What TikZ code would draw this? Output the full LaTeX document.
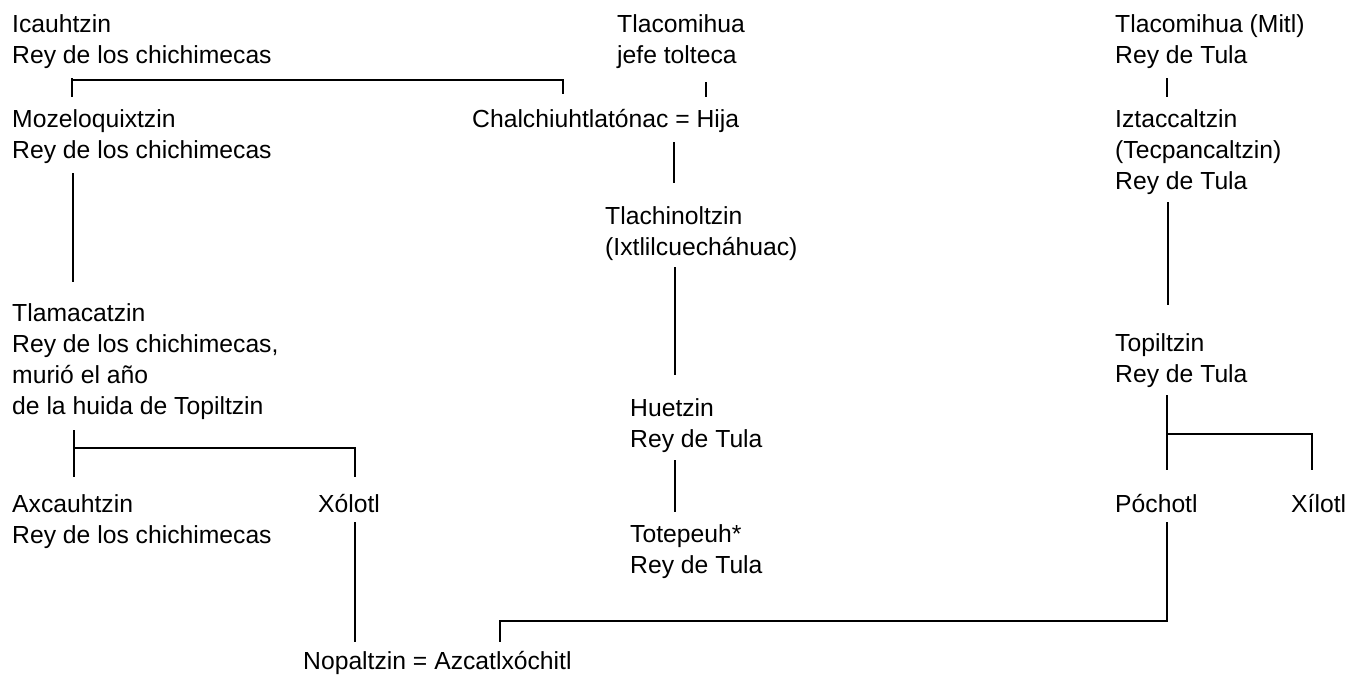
\documentclass[tikz,border=0pt]{standalone}
\usepackage{fontspec}
\setmainfont{Liberation Sans}
\begin{document}
\begin{tikzpicture}[x=1pt,y=-1pt,
  person/.style={anchor=north west, inner sep=0pt, align=left, font=\fontsize{24.7}{31}\selectfont},
  link/.style={line width=2pt, line cap=butt}]
\useasboundingbox (0,0) rectangle (1358,675);
% people
\node[person] (icau)   at (12,10.3)   {\strut Icauhtzin\\\strut Rey de los chichimecas};
\node[person] (tlacj)  at (617,10.3)  {\strut Tlacomihua\\\strut jefe tolteca};
\node[person] (tlacm)  at (1115,10.3) {\strut Tlacomihua (Mitl)\\\strut Rey de Tula};
\node[person] (moze)   at (12,105.3)  {\strut Mozeloquixtzin\\\strut Rey de los chichimecas};
\node[person] (chal)   at (472,105.3) {\strut Chalchiuhtlatónac = Hija};
\node[person] (iztac)  at (1115,105.3){\strut Iztaccaltzin\\\strut (Tecpancaltzin)\\\strut Rey de Tula};
\node[person] (tlachi) at (605,202.3) {\strut Tlachinoltzin\\\strut (Ixtlilcuecháhuac)};
\node[person] (tlama)  at (12,299.3)  {\strut Tlamacatzin\\\strut Rey de los chichimecas,\\\strut murió el año\\\strut de la huida de Topiltzin};
\node[person] (topil)  at (1115,329.3){\strut Topiltzin\\\strut Rey de Tula};
\node[person] (huetz)  at (630,394.3) {\strut Huetzin\\\strut Rey de Tula};
\node[person] (axca)   at (12,490.3)  {\strut Axcauhtzin\\\strut Rey de los chichimecas};
\node[person] (xolo)   at (318,490.3) {\strut Xólotl};
\node[person] (poch)   at (1115,490.3){\strut Póchotl};
\node[person] (xilo)   at (1291,490.3){\strut Xílotl};
\node[person] (tote)   at (630,520.3) {\strut Totepeuh*\\\strut Rey de Tula};
\node[person] (nopal)  at (303,647.3) {\strut Nopaltzin = Azcatlxóchitl};
% connector points
\coordinate (icauD)  at (72,78);
\coordinate (icauJ)  at (72,80);
\coordinate (mozeU)  at (72,97);
\coordinate (chalJ)  at (563,80);
\coordinate (chalU)  at (563,94);
\coordinate (tlacjD) at (706,82);
\coordinate (chalU2) at (706,97);
\coordinate (chalD)  at (674,142);
\coordinate (tlachiU) at (674,183);
\coordinate (tlachiD) at (675,267);
\coordinate (huetzU) at (675,375);
\coordinate (huetzD) at (675,460);
\coordinate (toteU)  at (675,512);
\coordinate (mozeD)  at (73,173);
\coordinate (tlamaU) at (73,282);
\coordinate (tlamaD) at (74,430);
\coordinate (tlamaJ) at (74,448);
\coordinate (axcaU)  at (74,477);
\coordinate (xoloJ)  at (355,448);
\coordinate (xoloU)  at (355,477);
\coordinate (xoloD)  at (355,522);
\coordinate (nopalU1) at (355,642);
\coordinate (tlacmD) at (1167,78);
\coordinate (iztacU) at (1167,97);
\coordinate (iztacD) at (1168,202);
\coordinate (topilU) at (1168,305);
\coordinate (topilD) at (1167,395);
\coordinate (topilJ) at (1167,434);
\coordinate (pochU)  at (1167,470);
\coordinate (xiloJ)  at (1312,434);
\coordinate (xiloU)  at (1312,470);
\coordinate (pochD)  at (1167,522);
\coordinate (pochJ)  at (1167,621);
\coordinate (nopalJ) at (500,621);
\coordinate (nopalU2) at (500,642);
% connectors
\draw[link] (icauD) -- (mozeU);
\draw[link] (icauJ) -- (chalJ) -- (chalU);
\draw[link] (tlacjD) -- (chalU2);
\draw[link] (chalD) -- (tlachiU);
\draw[link] (tlachiD) -- (huetzU);
\draw[link] (huetzD) -- (toteU);
\draw[link] (mozeD) -- (tlamaU);
\draw[link] (tlamaD) -- (axcaU);
\draw[link] (tlamaJ) -- (xoloJ) -- (xoloU);
\draw[link] (xoloD) -- (nopalU1);
\draw[link] (tlacmD) -- (iztacU);
\draw[link] (iztacD) -- (topilU);
\draw[link] (topilD) -- (pochU);
\draw[link] (topilJ) -- (xiloJ) -- (xiloU);
\draw[link] (pochD) -- (pochJ) -- (nopalJ) -- (nopalU2);
\end{tikzpicture}
\end{document}
